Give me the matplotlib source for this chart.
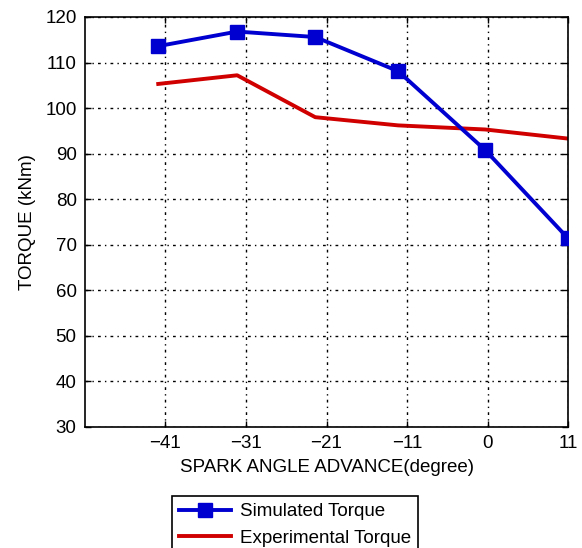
import matplotlib
matplotlib.use('Agg')
import matplotlib.pyplot as plt

plt.rcParams['font.family'] = ['Liberation Sans', 'DejaVu Sans']

# Data (x is the tick slot; the axis is labelled in degrees but evenly spaced)
tick_pos = [1, 2, 3, 4, 5, 6]
tick_labels = ['\u221241', '\u221231', '\u221221', '\u221211', '0', '11']
x_pos = [0.91, 1.89, 2.86, 3.89, 4.97, 6.0]
simulated = [113.6, 116.8, 115.6, 108.1, 90.8, 71.4]
experimental = [105.3, 107.2, 98.0, 96.2, 95.3, 93.3]

fig = plt.figure(figsize=(5.82, 5.48), dpi=100)
ax = fig.add_axes([0.146, 0.221, 0.830, 0.748])

blue = '#0000d0'
red = '#d00000'

ax.plot(x_pos, simulated, color=blue, lw=2.8, marker='s', markersize=10.5,
        markerfacecolor=blue, markeredgecolor=blue, label='Simulated Torque', zorder=3)
ax.plot(x_pos, experimental, color=red, lw=2.8, label='Experimental Torque', zorder=2)

ax.set_xlim(0, 6)
ax.set_ylim(30, 120)
ax.set_xticks(tick_pos)
ax.set_xticklabels(tick_labels)
ax.set_yticks(range(30, 121, 10))

ax.grid(True, color='black', linestyle=(0, (2, 3, 1, 3)), linewidth=1.0)
ax.tick_params(direction='in', top=True, right=True, labelsize=13.5, length=4,
               width=1, pad=6)
for s in ax.spines.values():
    s.set_linewidth(1.2)

ax.set_xlabel('SPARK ANGLE ADVANCE(degree)', fontsize=13.5, labelpad=5)
ax.set_ylabel('TORQUE (kNm)', fontsize=13.5, labelpad=7)

leg = fig.legend(loc='upper center', bbox_to_anchor=(295 / 582, 1 - 487 / 548),
                 fontsize=13.5, numpoints=1, handlelength=2.8, handletextpad=0.5,
                 fancybox=False, edgecolor='black', framealpha=1, borderpad=0.35,
                 labelspacing=0.5)
leg.get_frame().set_linewidth(1.2)

fig.savefig('out.png', dpi=100)
